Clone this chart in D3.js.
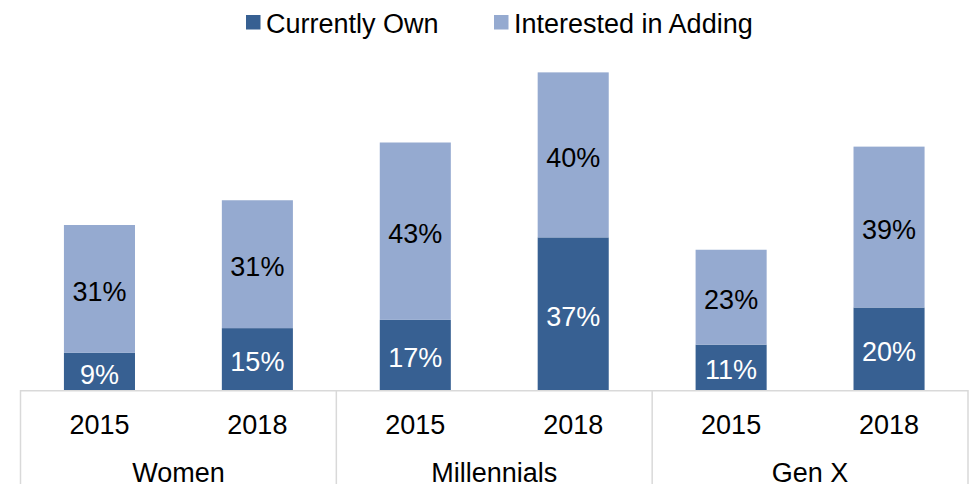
<!DOCTYPE html>
<html>
<head>
<meta charset="utf-8">
<script src="https://cdn.jsdelivr.net/npm/d3@7"></script>
<style>
  body { margin: 0; background: #fff; }
  svg { font-family: "Liberation Sans", Arial, sans-serif; }
</style>
</head>
<body>
<svg id="chart" width="974" height="484"></svg>
<script>
const width = 974;
const height = 484;

// data
const groups = ["Women", "Millennials", "Gen X"];
const years = ["2015", "2018"];
const seriesNames = ["Currently Own", "Interested in Adding"];
const currentlyOwn = [9, 15, 17, 37, 11, 20];
const interested = [31, 31, 43, 40, 23, 39];
const colors = ["#376092", "#95aad0"];

const svg = d3.select("#chart");

const plotLeft = 20.5;
const plotRight = 968;
const baseY = 390;
const fontSize = 27;

// one row per bar
const rows = [];
groups.forEach((g, gi) => {
    years.forEach((y, yi) => {
        const i = gi * years.length + yi;
        rows.push({ group: g, year: y, own: currentlyOwn[i], add: interested[i] });
    });
});

const x0 = d3.scaleBand()
    .domain(groups)
    .range([plotLeft, plotRight]);

const x1 = d3.scaleBand()
    .domain(years)
    .range([0, x0.bandwidth()])
    .paddingInner(0.55)
    .paddingOuter(0.275);

const y = d3.scaleLinear()
    .domain([0, 80])
    .range([baseY, baseY - 80 * 4.125]);

const stack = d3.stack().keys(["own", "add"]);
const stacked = stack(rows);

const barG = svg.append("g");

stacked.forEach((layer, li) => {
    barG.selectAll(null)
        .data(layer)
        .enter()
        .append("rect")
        .attr("x", d => x0(d.data.group) + x1(d.data.year))
        .attr("width", x1.bandwidth())
        .attr("y", d => y(d[1]))
        .attr("height", d => y(d[0]) - y(d[1]))
        .attr("fill", colors[li]);

    barG.selectAll(null)
        .data(layer)
        .enter()
        .append("text")
        .attr("x", d => x0(d.data.group) + x1(d.data.year) + x1.bandwidth() / 2)
        .attr("y", d => (y(d[0]) + y(d[1])) / 2)
        .attr("dy", "0.45em")
        .attr("text-anchor", "middle")
        .attr("font-size", fontSize)
        .attr("fill", li === 0 ? "#ffffff" : "#000000")
        .text(d => (d[1] - d[0]) + "%");
});

// axis line and group separators
const axisG = svg.append("g");
axisG.append("line")
    .attr("x1", plotLeft).attr("x2", plotRight)
    .attr("y1", baseY + 0.75).attr("y2", baseY + 0.75)
    .attr("stroke", "#d9d9d9")
    .attr("stroke-width", 1.5);

groups.concat([null]).forEach(g => {
    const xx = g === null ? plotRight : x0(g);
    axisG.append("line")
        .attr("x1", xx).attr("x2", xx)
        .attr("y1", baseY).attr("y2", height)
        .attr("stroke", "#d9d9d9")
        .attr("stroke-width", 1.5);
});

// year labels
rows.forEach(r => {
    axisG.append("text")
        .attr("x", x0(r.group) + x1(r.year) + x1.bandwidth() / 2)
        .attr("y", 424)
        .attr("dy", "0.36em")
        .attr("text-anchor", "middle")
        .attr("font-size", fontSize)
        .attr("fill", "#000")
        .text(r.year);
});

// group labels (they sit right at the bottom edge, as in the source)
groups.forEach(g => {
    axisG.append("text")
        .attr("x", x0(g) + x0.bandwidth() / 2)
        .attr("y", 472)
        .attr("dy", "0.36em")
        .attr("text-anchor", "middle")
        .attr("font-size", fontSize)
        .attr("fill", "#000")
        .text(g);
});

// legend
const legendX = [246, 494];
const legend = svg.append("g");
seriesNames.forEach((name, i) => {
    legend.append("rect")
        .attr("x", legendX[i])
        .attr("y", 15)
        .attr("width", 14.5)
        .attr("height", 14.5)
        .attr("fill", colors[i]);
    legend.append("text")
        .attr("x", legendX[i] + 20)
        .attr("y", 32.5)
        .attr("font-size", fontSize)
        .attr("fill", "#000")
        .text(name);
});
</script>
</body>
</html>
